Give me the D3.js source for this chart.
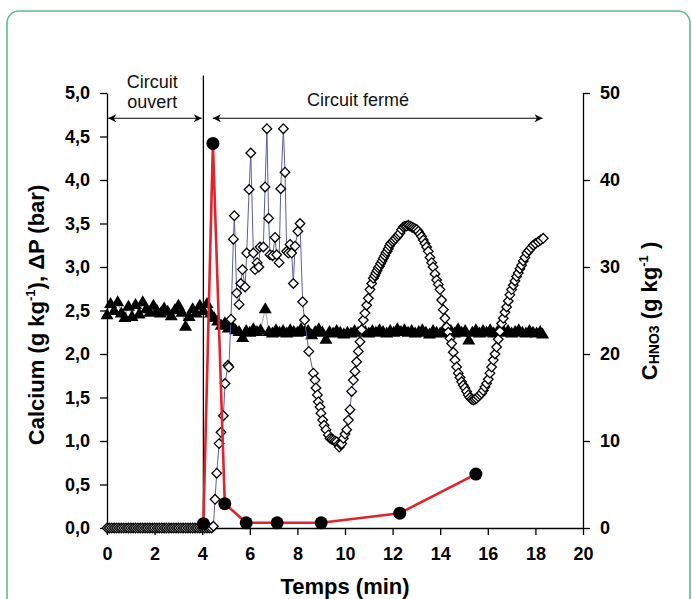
<!DOCTYPE html>
<html>
<head>
<meta charset="utf-8">
<script src="https://cdn.jsdelivr.net/npm/d3@7/dist/d3.min.js"></script>
<style>
  body { margin: 0; background: #fff; }
  text { font-family: "Liberation Sans", Arial, sans-serif; }
</style>
</head>
<body>
<svg id="chart" width="692" height="599"></svg>
<script>
// ---- data ----
// calcium (g/kg, left axis)
let calciumT = [4.05, 4.45, 4.95, 5.85, 7.15, 9.0, 12.3, 15.5];
let calciumV = [0.05, 4.42, 0.28, 0.06, 0.06, 0.06, 0.17, 0.62];

// delta P (bar, left axis)
let dpT = [0, 0.15, 0.3, 0.45, 0.6, 0.75, 0.9, 1.05, 1.2, 1.35, 1.5, 1.65, 1.8, 1.95, 2.1, 2.25, 2.4, 2.55, 2.7, 2.85,
  3.0, 3.15, 3.3, 3.45, 3.6, 3.75, 3.9, 4.05, 4.2, 4.35, 4.5,
  4.65, 4.8, 4.95, 5.1, 5.25, 5.4, 5.55, 5.7, 5.85, 6.0, 6.15, 6.3, 6.45, 6.65, 6.8, 6.95, 7.1, 7.25, 7.4, 7.55,
  7.7, 7.85, 8.0, 8.15, 8.3, 8.45, 8.6, 8.75, 8.9, 9.05, 9.2, 9.35, 9.5, 9.65, 9.8, 9.95, 10.1, 10.25, 10.4, 10.55,
  10.7, 10.85, 11.0, 11.15, 11.3, 11.45, 11.6, 11.75, 11.9, 12.05, 12.2, 12.35, 12.5, 12.65, 12.8, 12.95, 13.1, 13.25,
  13.4, 13.55, 13.7, 13.85, 14.0, 14.15, 14.3, 14.45, 14.6, 14.75, 14.9, 15.05, 15.2, 15.35, 15.5, 15.65, 15.8, 15.95,
  16.1, 16.25, 16.4, 16.55, 16.7, 16.85, 17.0, 17.15, 17.3, 17.45, 17.6, 17.75, 17.9, 18.05, 18.2, 18.3];
let dpV = [2.45, 2.58, 2.50, 2.60, 2.47, 2.42, 2.55, 2.43, 2.57, 2.46, 2.60, 2.52, 2.48, 2.56, 2.50, 2.47, 2.53, 2.49, 2.44, 2.51,
  2.56, 2.48, 2.32, 2.43, 2.52, 2.47, 2.56, 2.50, 2.58, 2.47, 2.42,
  2.38, 2.33, 2.36, 2.30, 2.33, 2.28, 2.26, 2.19, 2.27, 2.25, 2.29, 2.26, 2.28, 2.52, 2.26, 2.24, 2.28, 2.25, 2.27, 2.24,
  2.28, 2.26, 2.25, 2.29, 2.26, 2.27, 2.22, 2.26, 2.29, 2.25, 2.17, 2.26, 2.24, 2.27, 2.25, 2.23, 2.25, 2.24, 2.27, 2.25,
  2.28, 2.26, 2.24, 2.27, 2.25, 2.28, 2.26, 2.24, 2.27, 2.25, 2.29, 2.26, 2.28, 2.25, 2.27, 2.24, 2.26, 2.28,
  2.25, 2.23, 2.27, 2.25, 2.24, 2.28, 2.25, 2.27, 2.24, 2.29, 2.25, 2.27, 2.16, 2.25, 2.28, 2.24, 2.27, 2.25,
  2.28, 2.24, 2.26, 2.29, 2.25, 2.27, 2.24, 2.26, 2.28, 2.25, 2.24, 2.27, 2.25, 2.24, 2.26, 2.23];

// C HNO3 (g/kg, right axis)
let hno3T = [0, 0.1, 0.2, 0.3, 0.4, 0.5, 0.6, 0.7, 0.8, 0.9, 1.0, 1.1, 1.2, 1.3, 1.4, 1.5, 1.6, 1.7, 1.8, 1.9,
  2.0, 2.1, 2.2, 2.3, 2.4, 2.5, 2.6, 2.7, 2.8, 2.9, 3.0, 3.1, 3.2, 3.3, 3.4, 3.5, 3.6, 3.7, 3.8, 3.9, 4.0, 4.1, 4.2, 4.3, 4.4,
  4.47, 4.54, 4.61, 4.71, 4.79, 4.89, 4.96, 5.08, 5.12, 5.21, 5.31, 5.35, 5.45, 5.55, 5.62, 5.69, 5.80, 5.87, 5.97, 6.04,
  6.15, 6.22, 6.31, 6.38, 6.43, 6.57, 6.64, 6.72, 6.79, 6.85, 6.96, 7.06, 7.13, 7.23, 7.30, 7.41, 7.48, 7.55, 7.62, 7.69,
  7.76, 7.83, 7.90, 8.02, 8.11, 8.22, 8.30, 8.48,
  8.67, 8.74, 8.78, 8.84, 8.88, 8.95, 8.99, 9.06, 9.12, 9.20, 9.30, 9.37, 9.44, 9.51, 9.58, 9.65, 9.72, 9.76, 9.82, 9.86,
  9.93, 10.00, 10.07, 10.14, 10.21, 10.28, 10.35, 10.42, 10.49, 10.56, 10.63, 10.70, 10.77, 10.84, 10.91, 10.98, 11.05,
  11.12, 11.19, 11.25, 11.30, 11.35, 11.40, 11.45, 11.50, 11.56, 11.61, 11.67, 11.72, 11.77, 11.82, 11.87, 11.92, 12.00,
  12.06, 12.13, 12.20, 12.25, 12.31, 12.38, 12.45, 12.52, 12.59, 12.66, 12.73, 12.80, 12.87, 12.94, 13.01, 13.08, 13.15,
  13.22, 13.29, 13.36, 13.43, 13.50, 13.57, 13.64, 13.70, 13.78, 13.85, 13.92, 13.99, 14.06, 14.13, 14.20, 14.27, 14.34,
  14.41, 14.48, 14.55, 14.62, 14.69, 14.76, 14.83, 14.90, 14.97, 15.04, 15.11, 15.18, 15.25, 15.32, 15.39, 15.46, 15.53,
  15.60, 15.67, 15.74, 15.81, 15.88, 15.95, 16.02, 16.09, 16.16, 16.23, 16.30, 16.37, 16.44, 16.51, 16.58, 16.65, 16.72,
  16.79, 16.86, 16.93, 17.00, 17.07, 17.14, 17.21, 17.28, 17.35, 17.42, 17.49, 17.56, 17.64, 17.73, 17.82, 17.91, 18.00,
  18.12, 18.22, 18.33];
let hno3V = [0, 0, 0, 0, 0, 0, 0, 0, 0, 0, 0, 0, 0, 0, 0, 0, 0, 0, 0, 0,
  0, 0, 0, 0, 0, 0, 0, 0, 0, 0, 0, 0, 0, 0, 0, 0, 0, 0, 0, 0, 0, 0, 0, 0, 0,
  0.2, 3.3, 6.3, 9.7, 11.0, 12.9, 16.6, 18.7, 18.5, 24.0, 33.2, 35.9, 27.0, 25.7, 28.1, 29.7, 27.7, 31.6, 38.9, 43.1,
  31.6, 29.7, 30.5, 30.0, 32.3, 32.3, 39.2, 45.9, 35.6, 31.4, 31.3, 33.4, 31.4, 30.5, 39.0, 45.9, 40.9, 31.8, 31.6, 32.6,
  31.6, 28.1, 32.4, 34.1, 35.0, 26.0, 23.9, 20.3,
  17.8, 17.0, 16.1, 15.3, 14.5, 13.9, 13.2, 12.4, 11.8, 11.3, 10.7, 10.3, 10.2, 10.1, 10.0, 9.9, 9.6, 9.3, 9.6, 9.7,
  10.3, 10.8, 11.3, 12.4, 13.6, 15.7, 17.0, 18.0, 19.1, 20.3, 21.4, 22.8, 23.9, 24.7, 25.6, 26.4, 27.4,
  28.1, 28.7, 29.0, 29.3, 29.6, 29.9, 30.1, 30.4, 30.7, 31.0, 31.3, 31.6, 31.8, 32.1, 32.4, 32.7, 32.9,
  33.1, 33.3, 33.5, 33.7, 33.9, 34.3, 34.6, 34.7, 34.7, 34.8, 34.7, 34.6, 34.5, 34.4, 34.3, 34.1, 33.8,
  33.5, 33.1, 32.7, 32.3, 31.8, 31.1, 30.5, 30.0, 29.2, 28.5, 28.0, 27.4, 26.2, 25.1, 24.1, 23.1, 22.5,
  21.8, 21.2, 20.2, 19.3, 18.5, 17.8, 17.3, 16.8, 16.4, 16.1, 15.7, 15.3, 15.0, 14.8, 14.7, 14.8, 14.9,
  15.1, 15.3, 15.5, 15.8, 16.2, 16.6, 17.1, 17.8, 18.5, 19.3, 20.0, 20.8, 21.7, 22.6, 23.5, 24.1, 24.8,
  25.4, 26.1, 26.8, 27.4, 27.9, 28.4, 28.9, 29.3, 29.8, 30.2, 30.7, 31.1, 31.6, 31.9, 32.2, 32.5, 32.7,
  32.9, 33.1, 33.3];

let xTicks = [0, 2, 4, 6, 8, 10, 12, 14, 16, 18, 20];
let leftTicks = [0, 0.5, 1, 1.5, 2, 2.5, 3, 3.5, 4, 4.5, 5];
let rightTicks = [0, 10, 20, 30, 40, 50];

// ---- layout ----
let svg = d3.select('#chart');
let pad = {l: 107, r: 583, t: 93, b: 528};

let xScale = d3.scaleLinear().domain([0, 20]).range([pad.l, pad.r]);
let yLeft = d3.scaleLinear().domain([0, 5]).range([pad.b, pad.t]);
let yRight = d3.scaleLinear().domain([0, 50]).range([pad.b, pad.t]);

// green frame
svg.append('rect')
    .attr('x', 7).attr('y', 11)
    .attr('width', 683).attr('height', 640)
    .attr('rx', 12)
    .attr('fill', 'none')
    .attr('stroke', '#62bb8f')
    .attr('stroke-width', 1.6);

let comma = d => d3.format('.1f')(d).replace('.', ',');

function styleAxis(g) {
    g.selectAll('path, line').attr('stroke', '#000').attr('stroke-width', 1.3);
    g.selectAll('text')
        .attr('fill', '#000')
        .style('font-family', '"Liberation Sans", Arial, sans-serif')
        .style('font-size', '18px')
        .style('font-weight', 'bold');
}

svg.append('g')
    .attr('transform', `translate(0, ${pad.b})`)
    .call(d3.axisBottom(xScale).tickValues(xTicks).tickSize(7).tickSizeOuter(0).tickPadding(12))
    .call(styleAxis);

svg.append('g')
    .attr('transform', `translate(${pad.l}, 0)`)
    .call(d3.axisLeft(yLeft).tickValues(leftTicks).tickFormat(comma).tickSize(7).tickSizeOuter(0).tickPadding(10))
    .call(styleAxis);

svg.append('g')
    .attr('transform', `translate(${pad.r}, 0)`)
    .call(d3.axisRight(yRight).tickValues(rightTicks).tickSize(7).tickSizeOuter(0).tickPadding(10))
    .call(styleAxis);

// open / closed circuit annotations
let defs = svg.append('defs');
defs.append('marker')
    .attr('id', 'arrow')
    .attr('viewBox', '0 0 10 10')
    .attr('refX', 10).attr('refY', 5)
    .attr('markerWidth', 10).attr('markerHeight', 8)
    .attr('markerUnits', 'userSpaceOnUse')
    .attr('orient', 'auto-start-reverse')
    .append('path')
    .attr('d', 'M0,0L10,5L0,10L3,5Z')
    .attr('fill', '#000');

let arrowY = yLeft(4.71);
svg.append('line')
    .attr('x1', xScale(0.05)).attr('x2', xScale(3.98))
    .attr('y1', arrowY).attr('y2', arrowY)
    .attr('stroke', '#000').attr('stroke-width', 1.2)
    .attr('marker-start', 'url(#arrow)').attr('marker-end', 'url(#arrow)');
svg.append('line')
    .attr('x1', xScale(4.45)).attr('x2', xScale(18.3))
    .attr('y1', arrowY).attr('y2', arrowY)
    .attr('stroke', '#000').attr('stroke-width', 1.2)
    .attr('marker-start', 'url(#arrow)').attr('marker-end', 'url(#arrow)');

svg.append('line')
    .attr('x1', xScale(4.05)).attr('x2', xScale(4.05))
    .attr('y1', yLeft(0)).attr('y2', yLeft(5.2))
    .attr('stroke', '#000').attr('stroke-width', 1.3);

let note = svg.append('g').style('font-size', '18px').attr('fill', '#111');
note.append('text').attr('x', xScale(1.9)).attr('y', 88).attr('text-anchor', 'middle').text('Circuit');
note.append('text').attr('x', xScale(1.9)).attr('y', 108).attr('text-anchor', 'middle').text('ouvert');
note.append('text').attr('x', xScale(10.55)).attr('y', 106).attr('text-anchor', 'middle').text('Circuit fermé');

// ---- series ----
let dpData = dpT.map((t, i) => [t, dpV[i]]);
let hno3Data = hno3T.map((t, i) => [t, hno3V[i]]);
let caData = calciumT.map((t, i) => [t, calciumV[i]]);

// delta P: black triangles
svg.append('path')
    .datum(dpData)
    .attr('fill', 'none')
    .attr('stroke', '#8a8a8a')
    .attr('stroke-width', 0.8)
    .attr('d', d3.line().x(d => xScale(d[0])).y(d => yLeft(d[1])));
svg.append('g').selectAll('path')
    .data(dpData)
    .join('path')
    .attr('transform', d => `translate(${xScale(d[0])}, ${yLeft(d[1])})`)
    .attr('d', 'M0,-6.5L6.5,4.5L-6.5,4.5Z')
    .attr('fill', '#000');

// HNO3: open diamonds
svg.append('path')
    .datum(hno3Data)
    .attr('fill', 'none')
    .attr('stroke', '#5a5ea8')
    .attr('stroke-width', 1)
    .attr('d', d3.line().x(d => xScale(d[0])).y(d => yRight(d[1])));
svg.append('g').selectAll('path')
    .data(hno3Data)
    .join('path')
    .attr('transform', d => `translate(${xScale(d[0])}, ${yRight(d[1])})`)
    .attr('d', 'M0,-4.8L4.8,0L0,4.8L-4.8,0Z')
    .attr('fill', '#fff')
    .attr('stroke', '#000')
    .attr('stroke-width', 1.3);

// calcium: red line, black dots
svg.append('path')
    .datum(caData)
    .attr('fill', 'none')
    .attr('stroke', '#e3232b')
    .attr('stroke-width', 2.6)
    .attr('stroke-linejoin', 'round')
    .attr('d', d3.line().x(d => xScale(d[0])).y(d => yLeft(d[1])));
svg.append('g').selectAll('circle')
    .data(caData)
    .join('circle')
    .attr('cx', d => xScale(d[0]))
    .attr('cy', d => yLeft(d[1]))
    .attr('r', 6.5)
    .attr('fill', '#000');

// ---- axis titles ----
let leftTitle = svg.append('text')
    .attr('transform', 'translate(44, 315) rotate(-90)')
    .attr('text-anchor', 'middle')
    .style('font-size', '22px')
    .style('font-weight', 'bold');
leftTitle.append('tspan').text('Calcium (g kg');
leftTitle.append('tspan').attr('dy', -9).style('font-size', '13px').text('-1');
leftTitle.append('tspan').attr('dy', 9).text('), ΔP (bar)');

let rightTitle = svg.append('text')
    .attr('transform', 'translate(657, 311) rotate(-90)')
    .attr('text-anchor', 'middle')
    .style('font-size', '22px')
    .style('font-weight', 'bold');
rightTitle.append('tspan').text('C');
rightTitle.append('tspan').attr('dy', 2).style('font-size', '14px').text('HNO3');
rightTitle.append('tspan').attr('dy', -2).text(' (g kg');
rightTitle.append('tspan').attr('dy', -9).style('font-size', '13px').text('-1');
rightTitle.append('tspan').attr('dy', 9).text(' )');

svg.append('text')
    .attr('x', 345).attr('y', 594)
    .attr('text-anchor', 'middle')
    .style('font-size', '22px')
    .style('font-weight', 'bold')
    .text('Temps (min)');
</script>
</body>
</html>
